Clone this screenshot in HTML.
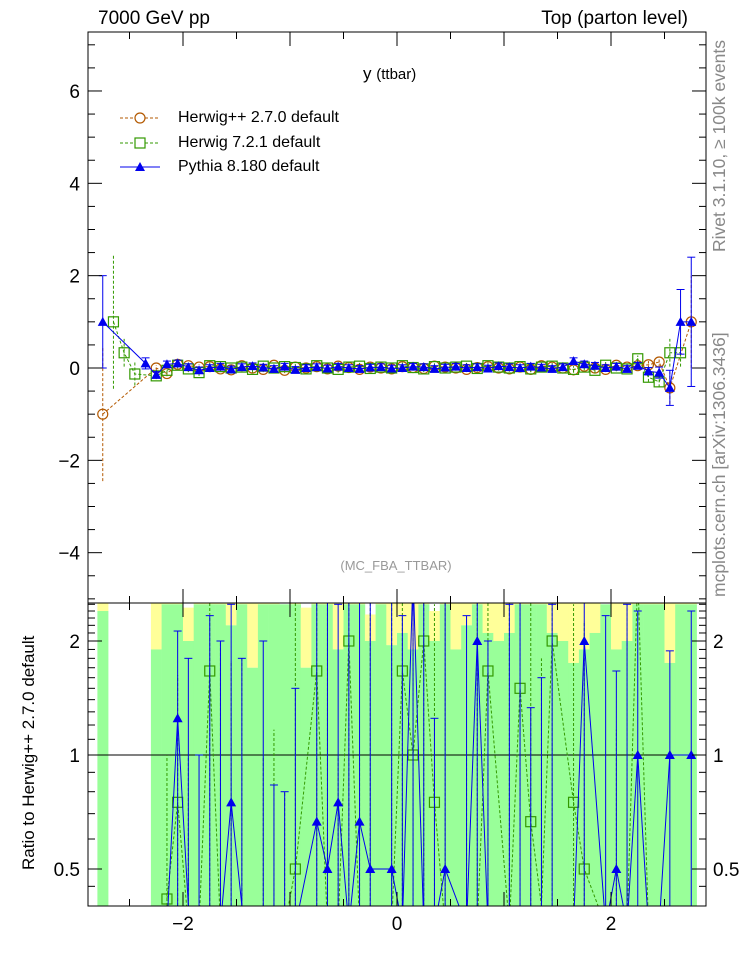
<!DOCTYPE html>
<html><head><meta charset="utf-8"><style>
body{margin:0;background:#fff}
svg{display:block;font-family:"Liberation Sans",sans-serif}
</style></head><body>
<svg id="c" width="746" height="972" viewBox="0 0 746 972"></svg>
<script>
const centers=[-2.75,-2.65,-2.55,-2.45,-2.35,-2.25,-2.15,-2.05,-1.95,-1.85,-1.75,-1.65,-1.55,-1.45,-1.35,-1.25,-1.15,-1.05,-0.95,-0.85,-0.75,-0.65,-0.55,-0.45,-0.35,-0.25,-0.15,-0.05,0.05,0.15,0.25,0.35,0.45,0.55,0.65,0.75,0.85,0.95,1.05,1.15,1.25,1.35,1.45,1.55,1.65,1.75,1.85,1.95,2.05,2.15,2.25,2.35,2.45,2.55,2.65,2.75];
const herwigpp=[-1.0,null,null,null,null,0.0,-0.12,0.08,0.05,0.02,0.03,-0.02,-0.04,0.05,0.0,-0.03,0.06,-0.05,0.02,0.0,0.03,-0.02,0.04,0.01,-0.03,0.02,0.0,-0.02,0.03,0.01,-0.01,0.04,0.02,0.0,-0.03,0.01,0.03,0.0,-0.02,0.02,-0.03,0.05,0.02,0.0,-0.04,0.04,0.0,-0.03,0.06,0.02,0.05,0.07,0.13,-0.43,null,1.0];
const herwig7=[null,1.0,0.33,-0.13,null,-0.17,-0.05,0.06,-0.02,-0.1,0.05,0.03,0.0,0.02,-0.03,0.04,0.0,0.03,0.01,-0.02,0.05,0.0,-0.03,0.02,0.04,-0.01,0.02,0.0,0.05,0.01,-0.02,0.03,0.0,0.02,0.04,-0.01,0.05,0.02,0.0,0.03,-0.02,0.02,0.04,0.0,-0.03,0.02,-0.05,0.06,0.0,-0.02,0.2,-0.2,-0.3,0.33,0.33,null];
const pythia=[1.0,null,null,null,0.1,-0.15,0.08,0.1,0.02,-0.05,0.0,0.03,-0.03,0.02,0.04,0.01,-0.02,0.03,-0.04,0.0,0.02,-0.01,0.03,0.0,-0.02,0.01,0.02,-0.01,0.0,0.03,0.02,-0.02,0.01,0.03,0.0,0.02,-0.01,0.04,0.02,0.0,0.03,0.01,-0.02,0.02,0.15,0.08,0.05,0.0,0.03,-0.02,0.05,-0.07,-0.1,-0.43,1.0,1.0];
const errHpp=[1.45,0,0,0,0,0.06,0.06,0.06,0.06,0.06,0.06,0.06,0.06,0.06,0.06,0.06,0.06,0.06,0.06,0.06,0.06,0.06,0.06,0.06,0.06,0.06,0.06,0.06,0.06,0.06,0.06,0.06,0.06,0.06,0.06,0.06,0.06,0.06,0.06,0.06,0.06,0.06,0.06,0.06,0.06,0.06,0.06,0.06,0.06,0.06,0.06,0.08,0.12,0.35,0,1.0];
const errH7=[0,1.45,0.3,0.25,0,0.07,0.07,0.07,0.07,0.07,0.07,0.07,0.07,0.07,0.07,0.07,0.07,0.07,0.07,0.07,0.07,0.07,0.07,0.07,0.07,0.07,0.07,0.07,0.07,0.07,0.07,0.07,0.07,0.07,0.07,0.07,0.07,0.07,0.07,0.07,0.07,0.07,0.07,0.07,0.07,0.07,0.07,0.07,0.07,0.07,0.07,0.1,0.12,0.3,0.3,0];
const errPy=[1.0,0,0,0,0.12,0.07,0.07,0.07,0.07,0.07,0.07,0.07,0.07,0.07,0.07,0.07,0.07,0.07,0.07,0.07,0.07,0.07,0.07,0.07,0.07,0.07,0.07,0.07,0.07,0.07,0.07,0.07,0.07,0.07,0.07,0.07,0.07,0.07,0.07,0.07,0.07,0.07,0.07,0.07,0.07,0.07,0.07,0.07,0.07,0.07,0.07,0.08,0.12,0.38,0.7,1.4];
const bandGreenTop=[2.4,null,null,null,null,1.9,2.5,2.5,2.0,2.5,2.5,2.5,2.2,2.5,1.7,2.5,2.5,2.5,2.5,1.7,2.5,2.5,1.9,2.5,2.5,2.0,2.5,1.95,2.1,1.9,2.5,2.0,2.5,1.9,2.2,2.5,2.1,2.0,2.1,2.5,2.5,2.5,2.1,2.0,1.75,1.9,2.1,2.5,1.9,2.0,2.5,2.5,2.5,1.75,2.5,2.5];
const bandYellowTop=[2.52,null,null,null,null,2.52,2.52,2.52,2.45,2.52,2.52,2.52,2.52,2.52,2.52,2.52,2.52,2.4,2.52,2.45,2.52,2.52,2.52,2.52,2.52,2.35,2.52,2.52,2.52,2.52,2.52,2.4,2.52,2.52,2.52,2.52,2.52,2.52,2.52,2.52,2.52,2.52,2.52,2.52,2.52,2.52,2.52,2.45,2.52,2.52,2.52,2.52,2.52,2.52,2.52,2.52];
const yTicks=[6,4,2,0,-2,-4];
const xTicks=[-2,0,2];
const rTicks=[2,1,0.5];

const svg=document.getElementById('c');const NS='http://www.w3.org/2000/svg';
function el(t,a,p){const e=document.createElementNS(NS,t);for(const k in a)e.setAttribute(k,a[k]);(p||svg).appendChild(e);return e;}
const L=88,R=706,T=32,MB=603,RB=906;
const X=v=>397+v*107;
const Y=v=>368-v*46.17;
const RY=v=>755-Math.log2(v)*114;
const bw=10.7;
const defs=el('defs',{});
const cp=el('clipPath',{id:'rc'},defs);el('rect',{x:L,y:MB,width:R-L,height:RB-MB},cp);
const cm=el('clipPath',{id:'mc'},defs);el('rect',{x:L,y:T,width:R-L,height:MB-T},cm);
const gb=el('g',{'clip-path':'url(#rc)'});


centers.forEach((c,i)=>{
 if(bandGreenTop[i]==null)return;
 const x0=X(c)-bw/2;
 const yt=RY(bandYellowTop[i]),gt=RY(bandGreenTop[i]);
 const y=el('rect',{x:x0,y:yt,width:bw+0.3,height:gt-yt,fill:'#ffff99'},gb);
 
 
 const g=el('rect',{x:x0,y:gt,width:bw+0.3,height:RB-gt,fill:'#99ff99'},gb);
 
 
});
el('line',{x1:L,x2:R,y1:RY(1),y2:RY(1),stroke:'#000','stroke-width':1});
const series=[
 {name:'herwigpp',v:herwigpp,e:errHpp,col:'#b35900',dash:'3,2',mk:'circle'},
 {name:'herwig7',v:herwig7,e:errH7,col:'#339900',dash:'3,2',mk:'square'},
 {name:'pythia',v:pythia,e:errPy,col:'#0000ee',dash:'',mk:'tri'}];
function marker(g,m,x,y,col){
 let e;
 if(m==='circle')e=el('circle',{cx:x,cy:y,r:5,fill:'none',stroke:col,'stroke-width':1.2},g);
 else if(m==='square')e=el('rect',{x:x-5,y:y-5,width:10,height:10,fill:'none',stroke:col,'stroke-width':1.2},g);
 else e=el('path',{d:`M${x},${y-5}L${x+5},${y+4}L${x-5},${y+4}Z`,fill:col},g);
 
 
}
series.forEach(s=>{
 const g=el('g',{'clip-path':'url(#mc)'});
 
 
 let pts=[];
 centers.forEach((c,i)=>{if(s.v[i]!=null)pts.push(X(c)+','+Y(s.v[i]));});
 el('polyline',{points:pts.join(' '),fill:'none',stroke:s.col,'stroke-width':1,'stroke-dasharray':s.dash},g);
 centers.forEach((c,i)=>{
  if(s.v[i]==null)return;const x=X(c);
  if(s.e[i]>0){el('line',{x1:x,x2:x,y1:Y(s.v[i]-s.e[i]),y2:Y(s.v[i]+s.e[i]),stroke:s.col,'stroke-dasharray':s.dash},g);
   if(!s.dash){el('line',{x1:x-4,x2:x+4,y1:Y(s.v[i]-s.e[i]),y2:Y(s.v[i]-s.e[i]),stroke:s.col},g);el('line',{x1:x-4,x2:x+4,y1:Y(s.v[i]+s.e[i]),y2:Y(s.v[i]+s.e[i]),stroke:s.col},g);}}
  marker(g,s.mk,x,Y(s.v[i]),s.col);
 });
 if(s.name==='herwigpp')return;
 const rg=el('g',{'clip-path':'url(#rc)'});
 
 
 const clampR=r=>Math.max(0.3,Math.min(3,r));
 let rp=[];
 centers.forEach((c,i)=>{
  const b=herwigpp[i];if(s.v[i]==null||b==null||b===0)return;
  const r=s.v[i]/b;const x=X(c);
  const yy=r>0?RY(clampR(r)):RB+20;rp.push(x+','+yy);
  const lo=(s.v[i]-s.e[i])/b,hi=(s.v[i]+s.e[i])/b;
  const a=Math.min(lo,hi),bb=Math.max(lo,hi);
  const y1=a>0?RY(clampR(a)):RB+20,y2=bb>0?RY(clampR(bb)):RB+20;
  el('line',{x1:x,x2:x,y1:y1,y2:y2,stroke:s.col,'stroke-dasharray':s.dash},rg);
  if(!s.dash){el('line',{x1:x-4,x2:x+4,y1:y1,y2:y1,stroke:s.col},rg);el('line',{x1:x-4,x2:x+4,y1:y2,y2:y2,stroke:s.col},rg);}
  if(r>0.4&&r<2.52)marker(rg,s.mk,x,RY(r),s.col);
 });
 el('polyline',{points:rp.join(' '),fill:'none',stroke:s.col,'stroke-width':1,'stroke-dasharray':s.dash},rg);
});
el('rect',{x:L,y:T,width:R-L,height:MB-T,fill:'none',stroke:'#000','stroke-width':1});
el('rect',{x:L,y:MB,width:R-L,height:RB-MB,fill:'none',stroke:'#000','stroke-width':1});
for(let v=-5;v<=7;v+=0.5){const y=Y(v);if(y<T||y>MB)continue;const len=(v%2===0)?14:7;
 el('line',{x1:L,x2:L+len,y1:y,y2:y,stroke:'#000'});el('line',{x1:R-len,x2:R,y1:y,y2:y,stroke:'#000'});}
yTicks.forEach(v=>{const t=el('text',{x:80,y:Y(v)+7,'text-anchor':'end','font-size':19});t.textContent=v<0?'\u2212'+(-v):v;
 
 });
for(let v=-2.5;v<=2.5;v+=0.5){const x=X(v);const len=(v%1===0)?14:7;
 el('line',{x1:x,x2:x,y1:T,y2:T+len,stroke:'#000'});el('line',{x1:x,x2:x,y1:MB,y2:MB+len,stroke:'#000'});el('line',{x1:x,x2:x,y1:MB-len,y2:MB,stroke:'#000'});el('line',{x1:x,x2:x,y1:RB-len,y2:RB,stroke:'#000'});}
xTicks.forEach(v=>{const t=el('text',{x:X(v),y:930,'text-anchor':'middle','font-size':19});t.textContent=v<0?'\u2212'+(-v):v;
 
 });
[0.5,0.6,0.7,0.8,0.9,1,2,1.1,1.2,1.3,1.4,1.5,1.6,1.7,1.8,1.9,2.1,2.2,2.3,2.4,2.5,0.45].forEach(v=>{const y=RY(v);if(y<MB||y>RB)return;const len=(v===1||v===2||v===0.5)?14:7;
 el('line',{x1:L,x2:L+len,y1:y,y2:y,stroke:'#000'});el('line',{x1:R-len,x2:R,y1:y,y2:y,stroke:'#000'});});
rTicks.forEach(v=>{const t=el('text',{x:80,y:RY(v)+7,'text-anchor':'end','font-size':19});t.textContent=v;
 
 
 const t2=el('text',{x:713,y:RY(v)+7,'font-size':19});t2.textContent=v;
 
 });
</script>
<div style="position:absolute;left:0;top:0;width:746px;height:972px;pointer-events:none;font-family:'Liberation Sans',sans-serif">
 <div style="position:absolute;left:98px;top:8px;font-size:19px">7000 GeV pp</div>
 <div style="position:absolute;right:58px;top:8px;font-size:19px">Top (parton level)</div>
 <div style="position:absolute;left:363px;top:64px;font-size:17px">y <span style="font-size:15px">(ttbar)</span></div>
 <div style="position:absolute;left:0;width:792px;text-align:center;top:558px;font-size:13px;color:#999">(MC_FBA_TTBAR)</div>
 <div style="position:absolute;left:120px;top:106px;font-size:16px;line-height:24.5px">
  <div style="position:relative;padding-left:58px"><svg style="position:absolute;left:0;top:5px" width="40" height="14"><line x1="0" y1="7" x2="40" y2="7" stroke="#b35900" stroke-dasharray="3,2"/><circle cx="20" cy="7" r="5" fill="#fff" stroke="#b35900" stroke-width="1.2"/></svg>Herwig++ 2.7.0 default</div>
  <div style="position:relative;padding-left:58px"><svg style="position:absolute;left:0;top:5px" width="40" height="14"><line x1="0" y1="7" x2="40" y2="7" stroke="#339900" stroke-dasharray="3,2"/><rect x="15" y="2" width="10" height="10" fill="#fff" stroke="#339900" stroke-width="1.2"/></svg>Herwig 7.2.1 default</div>
  <div style="position:relative;padding-left:58px"><svg style="position:absolute;left:0;top:5px" width="40" height="14"><line x1="0" y1="7" x2="40" y2="7" stroke="#0000ee"/><path d="M20,2L25,11L15,11Z" fill="#0000ee"/></svg>Pythia 8.180 default</div>
 </div>
 <div style="position:absolute;left:709px;top:252px;transform:rotate(-90deg);transform-origin:0 0;white-space:nowrap;font-size:17.5px;color:#888">Rivet 3.1.10, ≥ 100k events</div>
 <div style="position:absolute;left:709px;top:597px;transform:rotate(-90deg);transform-origin:0 0;white-space:nowrap;font-size:17.5px;color:#888">mcplots.cern.ch [arXiv:1306.3436]</div>
 <div style="position:absolute;left:19px;top:870px;transform:rotate(-90deg);transform-origin:0 0;white-space:nowrap;font-size:17px">Ratio to Herwig++ 2.7.0 default</div>
</div>
</body></html>
